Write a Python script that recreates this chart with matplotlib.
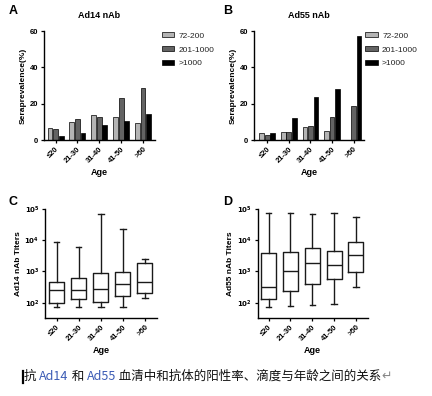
import matplotlib
matplotlib.use("Agg")
import matplotlib.pyplot as plt
import numpy as np
from matplotlib.ticker import FixedLocator, FuncFormatter, NullLocator
from matplotlib.lines import Line2D

# ---------------- data ----------------
age_groups = ["≤20", "21-30", "31-40", "41-50", ">50"]
titer_classes = ["72-200", "201-1000", ">1000"]

ad14_72_200 = [6.8, 10.1, 13.6, 12.5, 9.5]
ad14_201_1000 = [6.3, 11.3, 12.8, 23.3, 28.4]
ad14_gt1000 = [2.0, 3.9, 8.1, 10.6, 14.1]

ad55_72_200 = [3.9, 4.3, 7.2, 5.0, 0.0]
ad55_201_1000 = [2.8, 4.6, 7.9, 12.5, 18.9]
ad55_gt1000 = [3.9, 11.9, 23.9, 28.3, 57.2]

# box stats (titers)
ad14_low = [71, 74, 71, 73, 138]
ad14_q1 = [95, 128, 107, 163, 198]
ad14_med = [247, 255, 280, 390, 460]
ad14_q3 = [470, 600, 870, 960, 1900]
ad14_high = [8500, 5900, 71000, 23000, 2600]

ad55_low = [71, 78, 82, 88, 318]
ad55_q1 = [128, 235, 390, 560, 960]
ad55_med = [325, 1030, 1860, 1580, 3300]
ad55_q3 = [3800, 4300, 5700, 4400, 8500]
ad55_high = [76000, 76000, 69000, 76000, 54000]

bar_colors = ["#b4b4b4", "#636363", "#000000"]

plt.rcParams["font.family"] = ["Liberation Sans", "DejaVu Sans"]

fig = plt.figure(figsize=(4.32, 3.96), dpi=100)
W, H = 432.0, 396.0

def pos(l, r, t, b):
    return [l / W, 1 - b / H, (r - l) / W, (b - t) / H]

axA = fig.add_axes(pos(44, 155, 31, 140))
axB = fig.add_axes(pos(253.7, 364.3, 31, 140))
axC = fig.add_axes(pos(45, 157, 209, 317.7))
axD = fig.add_axes(pos(257.7, 367.7, 209, 317.7))

def style(ax):
    for s in ["top", "right"]:
        ax.spines[s].set_visible(False)
    for s in ["left", "bottom"]:
        ax.spines[s].set_linewidth(1.0)
    ax.tick_params(axis="both", direction="out", length=2.5, width=0.9,
                   labelsize=5.5, pad=1.5)
    for lab in ax.get_yticklabels():
        lab.set_fontweight("bold")

def bar_panel(ax, series, title, xlim, legx):
    x = np.arange(len(age_groups))
    offs = [-0.255, 0.0, 0.255]
    for i, (vals, lab) in enumerate(zip(series, titer_classes)):
        ax.bar(x + offs[i], vals, width=0.22, color=bar_colors[i],
               edgecolor="black", linewidth=0.5, label=lab)
    ax.set_xlim(*xlim)
    ax.set_ylim(0, 60)
    ax.set_yticks([0, 20, 40, 60])
    ax.set_xticks(x)
    ax.set_xticklabels(age_groups, rotation=45, ha="right",
                       rotation_mode="anchor", fontsize=5.5, fontweight="bold")
    style(ax)
    ax.set_ylabel("Seraprevalence(%)", fontsize=6, fontweight="bold", labelpad=2)
    ax.set_xlabel("Age", fontsize=6.5, fontweight="bold", labelpad=3)
    ax.set_title(title, fontsize=6.5, fontweight="bold", pad=9)
    leg = ax.legend(loc="upper left", bbox_to_anchor=(legx, 1.02), frameon=False,
                    fontsize=6, handlelength=1.5, handleheight=0.6,
                    labelspacing=0.75, handletextpad=0.5, borderaxespad=0)
    for t in leg.get_texts():
        t.set_color("#222222")

bar_panel(axA, [ad14_72_200, ad14_201_1000, ad14_gt1000], "Ad14 nAb",
          (-0.53, 4.55), 1.03)
bar_panel(axB, [ad55_72_200, ad55_201_1000, ad55_gt1000], "Ad55 nAb",
          (-0.63, 4.5), 0.98)

def box_panel(ax, low, q1, med, q3, high, ylabel, xlim):
    stats = []
    for i in range(len(age_groups)):
        stats.append(dict(whislo=low[i], q1=q1[i], med=med[i], q3=q3[i],
                          whishi=high[i], fliers=[], label=age_groups[i]))
    lp = dict(color="#1a1a1a", linewidth=1.0)
    ax.bxp(stats, positions=np.arange(len(age_groups)), widths=0.68,
           capwidths=0.25, showfliers=False, boxprops=lp, whiskerprops=lp,
           capprops=lp, medianprops=lp)
    ax.set_yscale("log")
    ax.set_ylim(10 ** 1.52, 1e5)
    ax.set_xlim(*xlim)
    ax.yaxis.set_major_locator(FixedLocator([1e2, 1e3, 1e4, 1e5]))
    ax.yaxis.set_minor_locator(NullLocator())
    ax.yaxis.set_major_formatter(FuncFormatter(
        lambda v, p: r"$\mathbf{10^{%d}}$" % int(round(np.log10(v)))))
    ax.set_xticks(np.arange(len(age_groups)))
    ax.set_xticklabels(age_groups, rotation=45, ha="right",
                       rotation_mode="anchor", fontsize=5.5, fontweight="bold")
    style(ax)
    ax.tick_params(axis="y", labelsize=5)
    ax.set_ylabel(ylabel, fontsize=6, fontweight="bold", labelpad=2)
    ax.set_xlabel("Age", fontsize=6.5, fontweight="bold", labelpad=3)

box_panel(axC, ad14_low, ad14_q1, ad14_med, ad14_q3, ad14_high,
          "Ad14 nAb Titers", (-0.53, 4.55))
box_panel(axD, ad55_low, ad55_q1, ad55_med, ad55_q3, ad55_high,
          "Ad55 nAb Titers", (-0.5, 4.54))

for letter, (px, py) in zip("ABCD", [(13, 11), (228, 11), (13, 202), (228, 202)]):
    fig.text(px / W, 1 - py / H, letter, fontsize=9, fontweight="bold",
             ha="center", va="center")

# ---------------- caption ----------------
cap_family = ["Noto Sans CJK SC", "DejaVu Sans"]
pieces = [("抗 ", "#111111"), ("Ad14", "#3b5bb5"), (" 和 ", "#111111"),
          ("Ad55", "#3b5bb5"), (" 血清中和抗体的阳性率、滴度与年龄之间的关系", "#111111"),
          ("↵", "#888888")]
renderer = fig.canvas.get_renderer()
xpix = 24.0
ybase = 1 - 380.0 / H
for txt, col in pieces:
    t = fig.text(xpix / W, ybase, txt, fontsize=9, color=col,
                 family=cap_family, ha="left", va="baseline")
    bb = t.get_window_extent(renderer=renderer)
    xpix += bb.width
fig.add_artist(Line2D([23 / W, 23 / W], [1 - 371 / H, 1 - 383 / H],
                      color="black", linewidth=1.6))

fig.savefig("out.png", dpi=100)
